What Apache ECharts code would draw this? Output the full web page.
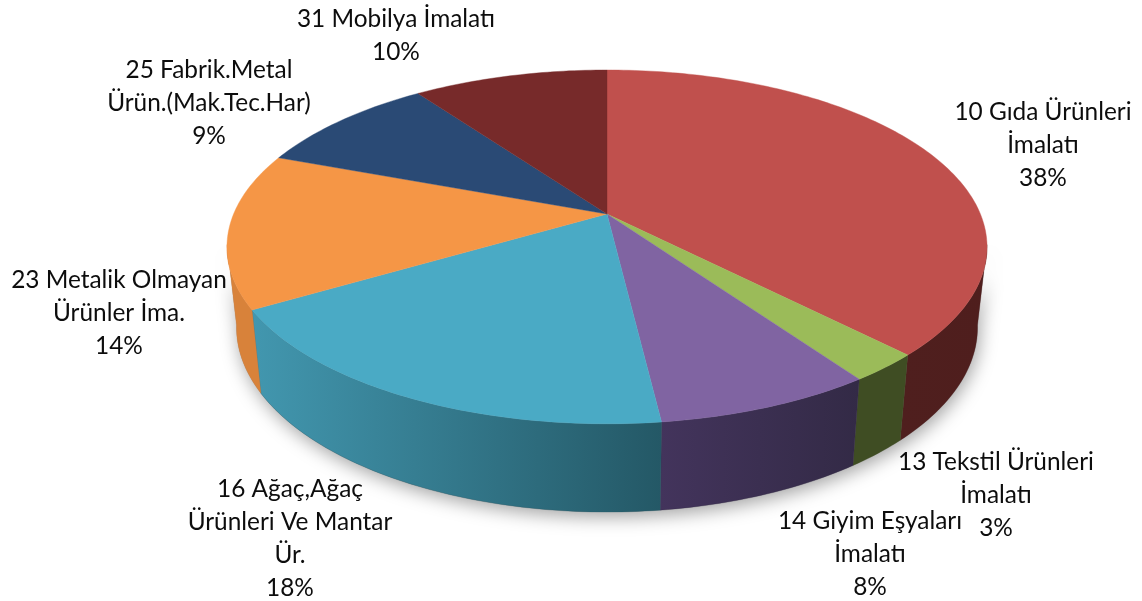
<!DOCTYPE html>
<html><head><meta charset="utf-8">
<style>html,body{margin:0;padding:0;background:#fff}#c{width:1142px;height:601px}</style>
<script src="https://cdn.jsdelivr.net/npm/echarts@6/dist/echarts.min.js"></script>
</head><body><div id="c"></div>
<script>
// ---- data ----
var categories = ['10 Gıda Ürünleri\nİmalatı','13 Tekstil Ürünleri\nİmalatı','14 Giyim Eşyaları\nİmalatı','16 Ağaç,Ağaç\nÜrünleri Ve Mantar\nÜr.','23 Metalik Olmayan\nÜrünler İma.','25 Fabrik.Metal\nÜrün.(Mak.Tec.Har)','31 Mobilya İmalatı'];
var values = [37.7, 2.6, 7.8, 18.4, 14.2, 9.4, 9.9];
// ---- layout and style, separate from the data ----
var topColors = ['#C0504D','#9BBB59','#8064A2','#4AAAC5','#F59646','#2A4A75','#772A2A'];
var wallFrom = ['#4F1F1E','#3F4D23','#43345C','#4297AF','#D8823A','#1E3556','#551E1E'];
var wallTo   = ['#4F1E1D','#3F4D23','#332A46','#245866','#D8823A','#1E3556','#551E1E'];
var labelCentres = [[1043,145],[996,495],[870,554],[290,539],[119,313],[209,103],[396,36]];
var W = 1142, H = 601, apexX = 607, apexY = 214, unitX = 373.4, unitY = 170.8, tilt = 0.186;
var lowerScaleX = 0.975, lowerScaleY = 1.044, lowerDrop = 79 / unitY;
var tangentRight = 100, tangentLeft = 260, step = 1;

var total = values.reduce(function (a, b) { return a + b; }, 0);
var edges = [0];
values.forEach(function (v, i) { edges.push(edges[i] + v / total * 360); });

function rim(deg, lower) {
  var t = deg * Math.PI / 180, X = Math.sin(t), Y = Math.cos(t), d = 1 + tilt * Y;
  var x = X / d, y = Y / d;
  return lower ? [x * lowerScaleX, y * lowerScaleY - lowerDrop] : [x, y];
}
function arc(a, b, lower) {
  var out = [], n = Math.max(1, Math.ceil(Math.abs(b - a) / step));
  for (var i = 0; i <= n; i++) out.push(rim(a + (b - a) * i / n, lower));
  return out;
}
var seriesData = values.map(function (v, i) { return { value: [i, v], name: categories[i] }; });

function renderShadow(params, api) {
  if (params.dataIndex !== 0) return null;
  var pts = arc(tangentRight, tangentLeft, true).concat(arc(tangentLeft, tangentRight, false));
  return { type: 'polygon', shape: { points: pts.map(api.coord) },
    style: { fill: '#888', shadowBlur: 18, shadowColor: 'rgba(0,0,0,0.36)', shadowOffsetX: 2, shadowOffsetY: 5 } };
}
function renderWall(params, api) {
  var i = params.dataIndex, a = Math.max(edges[i], tangentRight), b = Math.min(edges[i + 1], tangentLeft);
  if (b <= a) return null;
  var pts = arc(a, b, false).concat(arc(b, a, true)).map(api.coord);
  return { type: 'polygon', shape: { points: pts },
    style: { fill: new echarts.graphic.LinearGradient(0, 0, 1, 0, [{ offset: 0, color: wallFrom[i] }, { offset: 1, color: wallTo[i] }]),
      stroke: wallTo[i], lineWidth: 0.3 } };
}
function renderTop(params, api) {
  var i = params.dataIndex;
  var pts = [[0, 0]].concat(arc(edges[i], edges[i + 1], false)).map(api.coord);
  return { type: 'polygon', shape: { points: pts }, style: { fill: topColors[i], stroke: topColors[i], lineWidth: 0.4 } };
}
function custom(fn, z) {
  return { type: 'custom', coordinateSystem: 'cartesian2d', renderItem: fn, data: seriesData, z: z, silent: true,
    encode: { x: 0, y: 1 }, clip: false, animation: false };
}
var labels = categories.map(function (c, i) {
  return { type: 'text', x: labelCentres[i][0], y: labelCentres[i][1], silent: true,
    style: { text: c + '\n' + Math.round(values[i]) + '%', x: 0, y: 0, align: 'center', verticalAlign: 'middle',
      font: '24.4px Lato', lineHeight: 33, fill: '#0d0d0d' } };
});
var chart = echarts.init(document.getElementById('c'), null, { renderer: 'canvas' });
chart.setOption({
  animation: false, backgroundColor: '#fff',
  grid: { left: 0, right: 0, top: 0, bottom: 0 },
  xAxis: { type: 'value', show: false, min: -apexX / unitX, max: (W - apexX) / unitX, scale: true },
  yAxis: { type: 'value', show: false, min: -(H - apexY) / unitY, max: apexY / unitY, scale: true },
  graphic: labels,
  series: [custom(renderShadow, 1), custom(renderWall, 2), custom(renderTop, 3)]
});
</script></body></html>
